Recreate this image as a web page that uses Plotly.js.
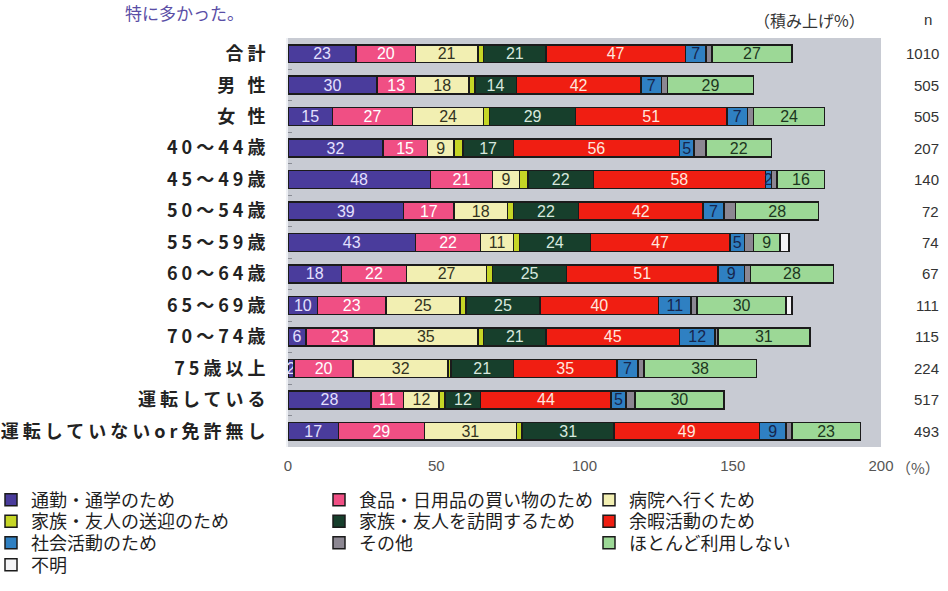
<!DOCTYPE html>
<html>
<head>
<meta charset="utf-8">
<script src="https://cdn.plot.ly/plotly-3.0.1.min.js"></script>
<style>
  html, body { margin: 0; padding: 0; background: #ffffff; }
  #chart { width: 948px; height: 591px; }
  .ytick text { letter-spacing: 4px; }
</style>
</head>
<body>
<div id="chart"></div>
<script>
// Row labels (top to bottom)
const categories = ['合計', '男 性', '女 性', '40～44歳', '45～49歳', '50～54歳', '55～59歳',
  '60～64歳', '65～69歳', '70～74歳', '75歳以上', '運転している', '運転していないor免許無し'];

// Sample size per row
const nValues = [1010, 505, 505, 207, 140, 72, 74, 67, 111, 115, 224, 517, 493];

// Stacked percentages per purpose
const commute  = [23, 30, 15, 32, 48, 39, 43, 18, 10,  6,  2, 28, 17];
const shopping = [20, 13, 27, 15, 21, 17, 22, 22, 23, 23, 20, 11, 29];
const hospital = [21, 18, 24,  9,  9, 18, 11, 27, 25, 35, 32, 12, 31];
const pickup   = [ 2,  2,  2,  3,  3,  2,  2,  2,  2,  2,  1,  2,  2];
const visit    = [21, 14, 29, 17, 22, 22, 24, 25, 25, 21, 21, 12, 31];
const leisure  = [47, 42, 51, 56, 58, 42, 47, 51, 40, 45, 35, 44, 49];
const social   = [ 7,  7,  7,  5,  2,  7,  5,  9, 11, 12,  7,  5,  9];
const other    = [ 2,  2,  2,  4,  2,  4,  3,  2,  2,  1,  2,  3,  2];
const rarely   = [27, 29, 24, 22, 16, 28,  9, 28, 30, 31, 38, 30, 23];
const unknown  = [ 0,  0,  0,  0,  0,  0,  3,  0,  2,  0,  0,  0,  0];

// Axis ticks
const xTicks = [0, 50, 100, 150, 200];

// Plot frame in pixels
const W = 948, H = 591;
const PL = 288, PR = 881, PT = 38, PB = 447;
const px = v => (v - PL) / (PR - PL);
const py = v => (PB - v) / (PB - PT);

const LABEL_FONT = 'Liberation Sans Narrow, Liberation Sans, Arial, sans-serif';
const JP_FONT = 'Noto Sans CJK JP, sans-serif';

function series(name, values, color, textColor, legendId, labeled) {
  return {
    type: 'bar',
    orientation: 'h',
    name: name,
    y: categories,
    x: values,
    legend: legendId,
    marker: { color: color, line: { color: '#1b1b1b', width: 1.5 } },
    texttemplate: labeled ? '%{x}' : '',
    textposition: labeled ? 'inside' : 'none',
    insidetextanchor: 'middle',
    textangle: 0,
    textfont: { family: LABEL_FONT, size: 16, color: textColor },
    hoverinfo: 'skip'
  };
}

// Stacking order left to right; each entry gets its own legend slot
const data = [
  series('通勤・通学のため', commute, '#4a3c9c', '#e4e0ff', 'legend', true),
  series('食品・日用品の買い物のため', shopping, '#f04f84', '#ffffff', 'legend5', true),
  series('病院へ行くため', hospital, '#f2efb2', '#33331f', 'legend8', true),
  series('家族・友人の送迎のため', pickup, '#c6d626', '#222222', 'legend2', false),
  series('家族・友人を訪問するため', visit, '#173f2c', '#d8e8de', 'legend6', true),
  series('余暇活動のため', leisure, '#f01e12', '#ffe6de', 'legend9', true),
  series('社会活動のため', social, '#2f80c2', '#17264d', 'legend3', true),
  series('その他', other, '#8c8792', '#222222', 'legend7', false),
  series('ほとんど利用しない', rarely, '#9cd896', '#1c361e', 'legend10', true),
  series('不明', unknown, '#f4f4f6', '#222222', 'legend4', false)
];

const annotations = [];
categories.forEach((c, i) => {
  annotations.push({
    xref: 'paper', yref: 'y', x: px(941), y: c,
    xanchor: 'right', yanchor: 'middle', showarrow: false,
    text: String(nValues[i]),
    font: { family: LABEL_FONT, size: 15, color: '#333333' }
  });
});
annotations.push(
  { xref: 'paper', yref: 'paper', x: px(928), y: py(20), xanchor: 'center', yanchor: 'middle',
    showarrow: false, text: 'n', font: { family: LABEL_FONT, size: 15, color: '#333333' } },
  { xref: 'paper', yref: 'paper', x: px(867), y: py(20), xanchor: 'right', yanchor: 'middle',
    showarrow: false, text: '（積み上げ%）', font: { family: JP_FONT, size: 16, color: '#333333' } },
  { xref: 'paper', yref: 'paper', x: px(894), y: py(467), xanchor: 'left', yanchor: 'middle',
    showarrow: false, text: '（%）', font: { family: JP_FONT, size: 15, color: '#555555' } },
  { xref: 'paper', yref: 'paper', x: px(123), y: py(12), xanchor: 'left', yanchor: 'middle',
    showarrow: false, text: '特に多かった。', font: { family: JP_FONT, size: 17, color: '#5a4ea6' } }
);

// Legend grid: three columns, rows of entries
const legendCols = [-9, 319, 589];
const legendRows = [500, 521.5, 543, 565];
function legendAt(col, row) {
  return {
    x: px(legendCols[col]), y: py(legendRows[row]), xanchor: 'left', yanchor: 'middle',
    orientation: 'v', traceorder: 'normal',
    bgcolor: 'rgba(0,0,0,0)', borderwidth: 0,
    font: { family: JP_FONT, size: 18, color: '#1e1e1e' },
    itemclick: false, itemdoubleclick: false
  };
}

const layout = {
  width: W, height: H,
  barmode: 'stack',
  bargap: 0.43,
  margin: { l: PL, r: W - PR, t: PT, b: H - PB, autoexpand: false },
  paper_bgcolor: '#ffffff',
  plot_bgcolor: '#c8cbd3',
  showlegend: true,
  uniformtext: { mode: 'show', minsize: 16 },
  xaxis: {
    range: [0, 200], tickvals: xTicks, ticktext: xTicks.map(String),
    showgrid: false, zeroline: false, showline: false, ticks: '',
    tickfont: { family: LABEL_FONT, size: 15, color: '#555555' },
    ticklabelstandoff: 8, fixedrange: true, automargin: false
  },
  yaxis: {
    type: 'category', categoryorder: 'array', categoryarray: categories,
    autorange: 'reversed',
    ticks: 'inside', ticklen: 4, tickcolor: '#8a8d95', tickson: 'boundaries',
    showgrid: false, zeroline: false,
    showline: true, linecolor: '#eef0f4', linewidth: 2,
    tickfont: { family: JP_FONT, size: 18, color: '#222222', weight: 700 },
    ticklabelstandoff: 13, fixedrange: true, automargin: false
  },
  legend: legendAt(0, 0),
  legend2: legendAt(0, 1),
  legend3: legendAt(0, 2),
  legend4: legendAt(0, 3),
  legend5: legendAt(1, 0),
  legend6: legendAt(1, 1),
  legend7: legendAt(1, 2),
  legend8: legendAt(2, 0),
  legend9: legendAt(2, 1),
  legend10: legendAt(2, 2),
  annotations: annotations
};

Plotly.newPlot('chart', data, layout, { staticPlot: true, displayModeBar: false });
</script>
</body>
</html>
